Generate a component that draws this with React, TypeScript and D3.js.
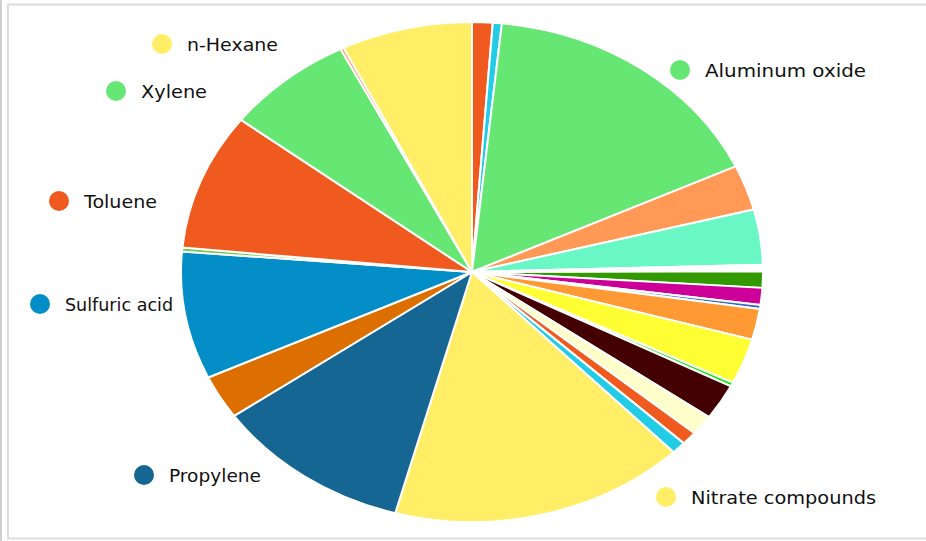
import React from "react";
import * as d3 from "d3";

// Slice shares (%), clockwise from 12 o'clock
const categories = [
  "Benzene", "Ammonia", "Aluminum oxide", "Chlorine", "Methanol", "Other",
  "Ethylene", "Styrene", "Phenol", "Acetone", "Ethanol", "Butadiene",
  "Hydrochloric acid", "Formaldehyde", "Lead compounds", "Zinc compounds",
  "Nitrate compounds", "Propylene", "Glycol ethers", "Sulfuric acid",
  "Copper compounds", "Toluene", "Xylene", "Manganese", "n-Hexane",
];
const values = [
  1.14, 0.5, 16.44, 2.92, 3.56, 0.42,
  1.06, 1.1, 0.25, 2.0, 2.95, 0.25,
  2.3, 1.31, 0.86, 0.8,
  16.45, 11.0, 2.83, 8.25,
  0.25, 8.86, 7.14, 0.19, 7.28,
];
const colors = [
  "#f05a1e", "#22cce6", "#66e673", "#ff9955", "#6af7c6", "#ffffff",
  "#339900", "#cc0099", "#3366cc", "#ff9933", "#ffff33", "#00ee00",
  "#440000", "#ffffcc", "#f05a1e", "#22cce6",
  "#ffee66", "#166694", "#dd6e00", "#048ec8",
  "#66cc44", "#f05a1e", "#66e673", "#ff9955", "#ffee66",
];
const labeled = ["n-Hexane", "Xylene", "Toluene", "Sulfuric acid", "Propylene", "Aluminum oxide", "Nitrate compounds"];

// layout (not data)
const labelPos: Record<string, { x: number; y: number; w: number }> = {
  "n-Hexane": { x: 162, y: 44, w: 91 },
  "Xylene": { x: 116, y: 91, w: 66 },
  "Toluene": { x: 59, y: 201, w: 73 },
  "Sulfuric acid": { x: 40, y: 304, w: 108 },
  "Propylene": { x: 144, y: 475, w: 92 },
  "Aluminum oxide": { x: 680, y: 70, w: 161 },
  "Nitrate compounds": { x: 666, y: 497, w: 185 },
};

export default function App() {
  const W = 926, H = 541;
  const cx = 472, cy = 272, rx = 291, ry = 250;
  const data = categories.map((c, i) => ({ c, v: values[i], col: colors[i] }));
  const pie = d3.pie<any>().value((d) => d.v).sort(null).startAngle(0).endAngle(2 * Math.PI);
  const arcs = pie(data);
  const arc = d3.arc<any>().innerRadius(0).outerRadius(ry);
  return (
    <svg width={W} height={H} style={{ position: "absolute", left: 0, top: 0, background: "#fff" }}>
      <line x1={1} y1={0} x2={1} y2={H} stroke="#cfcfcf" strokeWidth={2} />
      <rect x={8} y={4.5} width={W} height={534} fill="#fff" stroke="#dcdcdc" strokeWidth={2} />
      <g transform={`translate(${cx},${cy}) scale(${rx / ry},1)`}>
        {arcs.map((a, i) => (
          <path key={i} d={arc(a) as string} fill={a.data.col} stroke="#fff" strokeWidth={2}
            strokeLinejoin="round" vectorEffect="non-scaling-stroke" />
        ))}
      </g>
      {labeled.map((name) => {
        const p = labelPos[name];
        const col = colors[categories.indexOf(name)];
        return (
          <g key={name}>
            <circle cx={p.x} cy={p.y} r={10} fill={col} />
            <text x={p.x + 25} y={p.y + 7} fontFamily="DejaVu Sans, Verdana, sans-serif" fontSize={18}
              textLength={p.w} lengthAdjust="spacingAndGlyphs" fill="#111">{name}</text>
          </g>
        );
      })}
    </svg>
  );
}
